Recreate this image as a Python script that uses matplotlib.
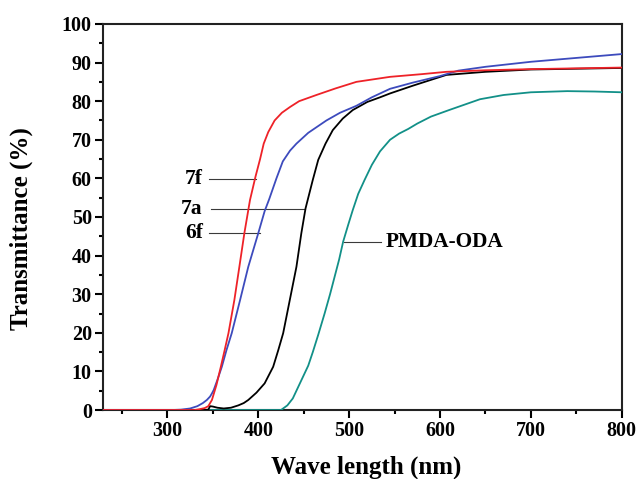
import matplotlib
matplotlib.use("Agg")
import matplotlib.pyplot as plt
from matplotlib.ticker import MultipleLocator

# UV-vis transmittance spectra of the polyimide films
wl_7f = [229, 330, 335, 341, 345, 349, 354, 358.8, 363, 367.2, 373.7, 379.2,
         384.7, 390.9, 397, 402, 406, 411, 418, 426, 435, 445, 464, 485, 508,
         545, 580, 607, 650, 700, 750, 800]
t_7f = [0, 0, 0.2, 0.5, 1.0, 2.6, 6.5, 11.2, 15.5, 19.9, 28.5, 37.1,
        45.8, 54.4, 60.5, 65, 69, 72, 75, 77, 78.5, 80, 81.6, 83.3, 85,
        86.3, 87, 87.6, 88, 88.3, 88.5, 88.7]

wl_6f = [229, 305, 315, 325, 333, 339, 343.4, 347, 349, 351, 355, 359.9, 365,
         370.8, 380, 389, 400, 407, 412, 420, 427, 435, 442, 455, 475, 490,
         508, 525, 545, 570, 600, 620, 650, 700, 750, 800]
t_6f = [0, 0, 0.1, 0.4, 1.0, 1.8, 2.6, 3.5, 4.3, 5.2, 7.8, 11.2, 15.5,
        19.9, 28.5, 37.1, 45.8, 51.5, 54.6, 60, 64.4, 67.2, 69, 71.8, 75, 77,
        78.8, 81, 83.2, 84.8, 86.5, 87.9, 88.9, 90.2, 91.2, 92.2]

wl_7a = [229, 340, 345, 347, 350, 355, 362, 370, 378, 384, 389, 398, 407,
         416.4, 422, 427.4, 434.7, 442, 447.4, 452, 460, 466, 474, 482, 493,
         504, 520, 534, 545, 570, 607, 650, 700, 750, 800]
t_7a = [0, 0, 0.1, 1.0, 0.9, 0.6, 0.4, 0.6, 1.2, 1.8, 2.6, 4.5, 6.9,
        11.2, 15.5, 19.9, 28.5, 37.1, 45.8, 52.2, 59.6, 64.8, 69, 72.5, 75.5,
        77.7, 79.8, 81, 82, 84, 86.8, 87.6, 88.2, 88.4, 88.6]

wl_pmda = [229, 425, 432, 438, 442, 448, 455, 460, 466, 473, 479, 484, 489,
           493.4, 499, 504, 510, 517, 525, 534, 545, 555, 565, 575, 590, 610,
           644, 670, 700, 740, 770, 800]
t_pmda = [0, 0, 1.2, 3, 5, 8, 11.5, 15, 19.5, 25, 30, 34.5, 39,
          43.6, 48, 51.8, 56, 59.6, 63.5, 67, 70, 71.6, 72.8, 74.2, 76, 77.7,
          80.5, 81.6, 82.3, 82.6, 82.5, 82.3]

# curve labels: text, level (%), leader line start / end (nm)
lab_names = ["7f", "7a", "6f"]
lab_y = [59.8, 52.1, 45.9]
lab_x0 = [345.5, 348.5, 345.5]
lab_x1 = [397, 451, 401.5]

plt.rcParams["font.family"] = ["Liberation Serif", "DejaVu Serif"]
plt.rcParams["font.weight"] = "bold"

fig = plt.figure(figsize=(6.39, 4.79), dpi=100)
ax = fig.add_axes([0.161, 0.144, 0.812, 0.806])

ax.plot(wl_pmda, t_pmda, color="#129088", lw=1.3, zorder=3)
ax.plot(wl_7a, t_7a, color="black", lw=1.3, zorder=4)
ax.plot(wl_6f, t_6f, color="#3d4bbd", lw=1.3, zorder=5)
ax.plot(wl_7f, t_7f, color="#ee2228", lw=1.3, zorder=6)

lead = dict(color="#3a3a3a", lw=0.8)
for name, y, x0, x1 in zip(lab_names, lab_y, lab_x0, lab_x1):
    ax.plot([x0, x1], [y, y], **lead, zorder=2)
    ax.text(339, y, name, ha="right", va="center", fontsize=15.5,
            fontweight="bold")
ax.plot([494.5, 535.5], [43.6, 43.6], **lead, zorder=2)
ax.text(540, 43.6, "PMDA-ODA", ha="left", va="center", fontsize=15.3,
        fontweight="bold")

ax.set_xlim(229, 800)
ax.set_ylim(0, 100)
ax.xaxis.set_major_locator(MultipleLocator(100))
ax.xaxis.set_minor_locator(MultipleLocator(50))
ax.yaxis.set_major_locator(MultipleLocator(10))
ax.yaxis.set_minor_locator(MultipleLocator(5))
ax.tick_params(which="both", direction="out", width=1.5, top=False,
               right=False, labelsize=14.5, pad=2)
ax.tick_params(which="major", length=6)
ax.tick_params(which="minor", length=3)
for lbl in ax.get_xticklabels() + ax.get_yticklabels():
    lbl.set_fontweight("bold")
for sp in ax.spines.values():
    sp.set_linewidth(1.5)
    sp.set_color("#222222")

xl = ax.set_xlabel("Wave length (nm)", fontsize=18, fontweight="bold")
yl = ax.set_ylabel("Transmittance (%)", fontsize=18, fontweight="bold")
xl.set_va("center")
yl.set_ha("center")
yl.set_va("center")
ax.xaxis.set_label_coords(0.508, -0.148)
ax.yaxis.set_label_coords(-0.158, 0.469)

fig.savefig("out.png", dpi=100, facecolor="white")
